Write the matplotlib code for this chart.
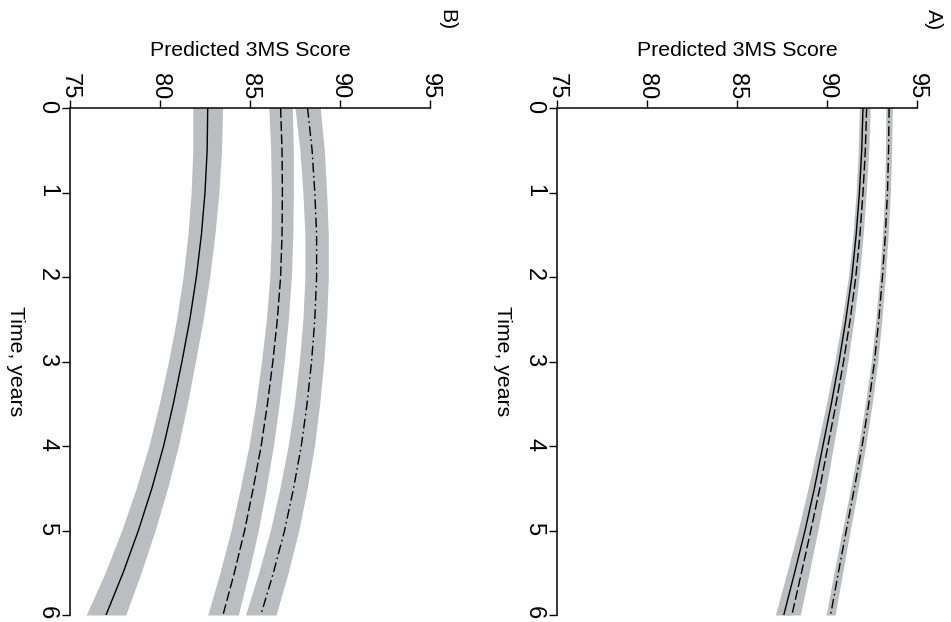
import matplotlib
matplotlib.use("Agg")
import matplotlib.pyplot as plt

plt.rcParams['font.family'] = ['Liberation Sans', 'DejaVu Sans']

# time grid (years)
years = [0, 0.5, 1, 1.5, 2, 2.5, 3, 3.5, 4, 4.5, 5, 5.5, 6]

# panel A predicted scores
a_solid = [92.0, 91.93, 91.8, 91.62, 91.38, 91.05, 90.67, 90.24, 89.77, 89.3, 88.78, 88.2, 87.6]
a_dashed = [92.2, 92.13, 92.0, 91.83, 91.6, 91.29, 90.92, 90.5, 90.05, 89.6, 89.1, 88.58, 88.05]
a_dashdot = [93.45, 93.42, 93.36, 93.24, 93.08, 92.88, 92.64, 92.32, 91.95, 91.52, 91.07, 90.63, 90.2]
# half widths of the grey bands
a_solid_hw = [0.2, 0.19, 0.18, 0.18, 0.19, 0.21, 0.24, 0.27, 0.31, 0.35, 0.39, 0.43, 0.47]
a_dashed_hw = [0.2, 0.19, 0.18, 0.18, 0.19, 0.21, 0.24, 0.27, 0.31, 0.35, 0.39, 0.43, 0.47]
a_dashdot_hw = [0.18, 0.17, 0.16, 0.16, 0.16, 0.17, 0.18, 0.19, 0.2, 0.21, 0.22, 0.24, 0.25]

# panel B predicted scores
b_solid = [82.65, 82.62, 82.5, 82.3, 82.02, 81.66, 81.22, 80.74, 80.2, 79.55, 78.8, 77.95, 77.0]
b_dashed = [86.7, 86.78, 86.8, 86.78, 86.7, 86.52, 86.27, 85.97, 85.62, 85.18, 84.7, 84.13, 83.5]
b_dashdot = [88.2, 88.45, 88.6, 88.7, 88.7, 88.6, 88.42, 88.17, 87.85, 87.42, 86.92, 86.3, 85.6]
b_solid_hw = [0.83, 0.8, 0.77, 0.75, 0.74, 0.74, 0.75, 0.78, 0.82, 0.87, 0.93, 1.0, 1.1]
b_dashed_hw = [0.65, 0.63, 0.61, 0.6, 0.6, 0.61, 0.63, 0.65, 0.68, 0.72, 0.76, 0.8, 0.85]
b_dashdot_hw = [0.7, 0.68, 0.66, 0.65, 0.65, 0.66, 0.68, 0.7, 0.73, 0.76, 0.79, 0.82, 0.85]

score_ticks = [75, 80, 85, 90, 95]
time_ticks = [0, 1, 2, 3, 4, 5, 6]

band_color = '#bcbdc0'
line_styles = {'solid': '-', 'dashed': (0, (7, 2.5)), 'dashdot': (0, (7, 2.5, 1.2, 2.5))}


def draw_panel(ax, series, tag, tag_x):
    # grey confidence bands first, then the lines on top
    for vals, hw, style in series:
        lo = [v - h for v, h in zip(vals, hw)]
        hi = [v + h for v, h in zip(vals, hw)]
        ax.fill_betweenx(years, lo, hi, color=band_color, lw=0)
    for vals, hw, style in series:
        ax.plot(vals, years, color='black', lw=1.0, linestyle=line_styles[style])

    ax.set_xlim(75, 95)
    ax.set_ylim(6, 0)
    for s in ['bottom', 'right']:
        ax.spines[s].set_visible(False)
    for s in ['top', 'left']:
        ax.spines[s].set_linewidth(1.1)

    ax.xaxis.tick_top()
    ax.set_xticks(score_ticks)
    ax.set_yticks(time_ticks)
    ax.tick_params(axis='x', labelrotation=-90, labelsize=17, length=5.5, width=1.0, pad=1)
    ax.tick_params(axis='y', labelrotation=-90, labelsize=17, length=5.5, width=1.0, pad=3)

    ax.xaxis.set_label_position('top')
    ax.set_xlabel('Predicted 3MS Score', fontsize=15.3, labelpad=12)
    ax.set_ylabel('Time, years', fontsize=15.3, rotation=-90, labelpad=22, va='bottom')

    fig.text(tag_x, 1 - 20 / 622, tag, rotation=-90, fontsize=15.3, ha='center', va='center')


fig = plt.figure(figsize=(9.51, 6.22), dpi=100)
ax_b = fig.add_axes([70 / 951, 7 / 622, 360 / 951, 507 / 622])
ax_a = fig.add_axes([557 / 951, 7 / 622, 360 / 951, 507 / 622])

draw_panel(ax_a, [(a_solid, a_solid_hw, 'solid'),
                  (a_dashed, a_dashed_hw, 'dashed'),
                  (a_dashdot, a_dashdot_hw, 'dashdot')], 'A)', 933 / 951)
draw_panel(ax_b, [(b_solid, b_solid_hw, 'solid'),
                  (b_dashed, b_dashed_hw, 'dashed'),
                  (b_dashdot, b_dashdot_hw, 'dashdot')], 'B)', 447 / 951)

fig.savefig('out.png', dpi=100)
